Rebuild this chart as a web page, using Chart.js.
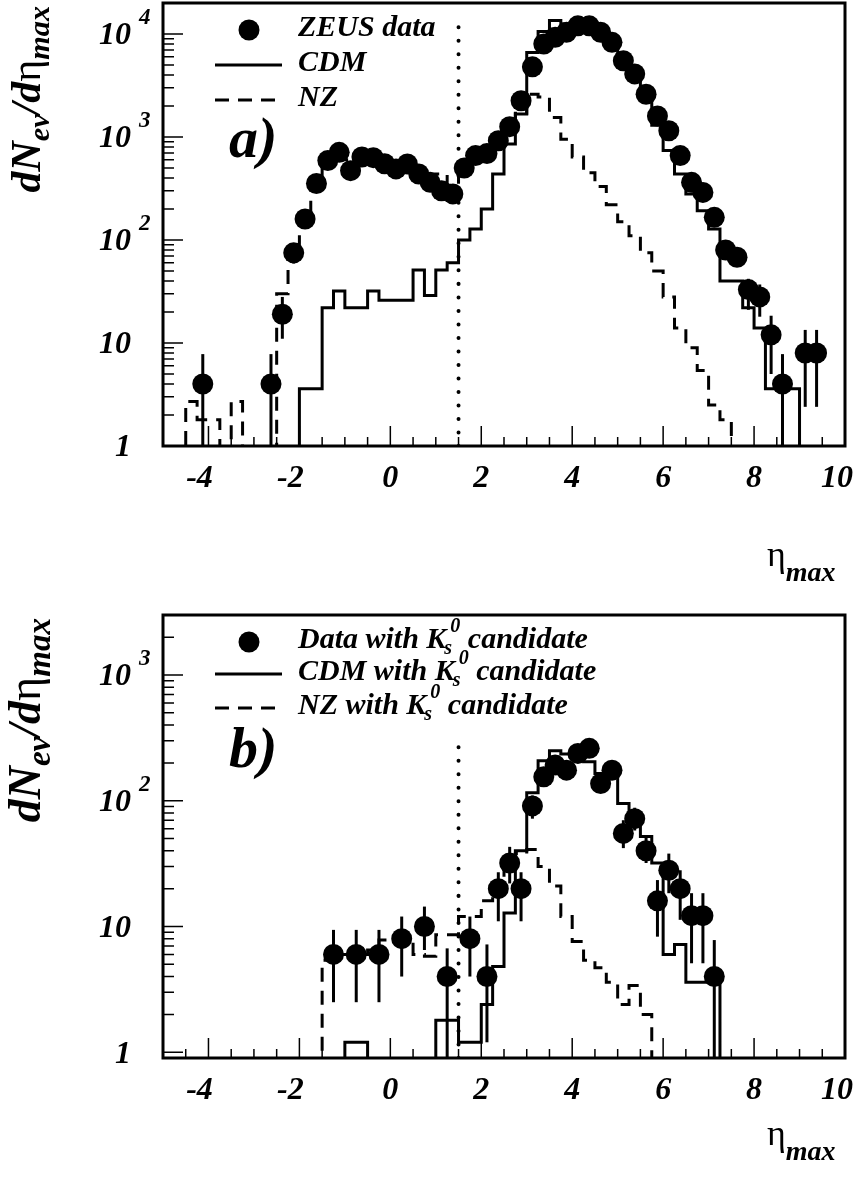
<!DOCTYPE html>
<html>
<head>
<meta charset="utf-8">
<script src="https://cdn.jsdelivr.net/npm/chart.js@4.4.1/dist/chart.umd.min.js"></script>
<style>
  html, body { margin: 0; padding: 0; background: #fff; }
  #wrap { position: relative; width: 864px; height: 1200px; }
  canvas { position: absolute; left: 0; }
</style>
</head>
<body>
<div id="wrap">
  <canvas id="ca" width="864" height="600" style="top:0"></canvas>
  <canvas id="cb" width="864" height="600" style="top:600px"></canvas>
</div>
<script>
// ---- panel a: all events ----
const aDataX = [-4.125, -2.625, -2.375, -2.125, -1.875, -1.625, -1.375, -1.125, -0.875, -0.625, -0.375, -0.125,
  0.125, 0.375, 0.625, 0.875, 1.125, 1.375, 1.625, 1.875, 2.125, 2.375, 2.625, 2.875, 3.125, 3.375, 3.625, 3.875,
  4.125, 4.375, 4.625, 4.875, 5.125, 5.375, 5.625, 5.875, 6.125, 6.375, 6.625, 6.875, 7.125, 7.375, 7.625, 7.875,
  8.125, 8.375, 8.625, 9.125, 9.375];
const aDataY = [4, 4, 19, 75, 160, 354, 590, 710, 471, 640, 630, 550,
  490, 547, 437, 363, 300, 280, 500, 660, 690, 920, 1260, 2250, 4800, 8000, 9300, 10400,
  12000, 12000, 10400, 8300, 5500, 4100, 2600, 1600, 1150, 660, 363, 290, 166, 80, 68, 33,
  28, 12, 4, 8, 8];
const aErrLo = [0.5, 0.5, 11, 59, null, null, null, null, null, null, null, null,
  null, null, null, null, null, null, null, null, null, null, null, null, null, null, null, null,
  null, null, null, null, null, null, null, null, null, null, null, null, null, 70, 58, 21,
  18, 5, 0.5, 2.4, 2.4];
const aErrHi = [7.8, 7.8, 28, 90, null, null, null, null, null, null, null, null,
  null, null, null, null, null, null, null, null, null, null, null, null, null, null, null, null,
  null, null, null, null, null, null, null, null, null, null, null, null, null, 92, 80, 42,
  37, 18.4, 7.8, 13.4, 13.4];
// histograms: first bin edge, then one value per 0.25 bin
const aCdmStart = -2.0;
const aCdmVals = [3.6, 3.6, 22, 32, 22, 22, 32, 26, 26, 26, 51, 29, 51, 60, 100, 128, 200, 437, 855, 1670,
  6600, 10600, 13500, 12500, 13000, 12500, 11000, 8500, 5800, 4000, 2500, 1300, 740, 437, 280, 192, 128,
  40, 40, 22, 14, 3.6, 3.6, 3.6];
const aNzStart = -4.5;
const aNzVals = [2.7, 1.8, 1.8, 0, 2.7, 0, 0, 0, 30, 90, 180, 390, 570, 700, 600, 560, 600, 560, 520, 520,
  470, 420, 437, 340, 550, 650, 700, 900, 1100, 1700, 2600, 2450, 1550, 950, 640, 450, 330, 220, 150, 110,
  75, 50, 28, 14, 9, 5.4, 2.5, 1.8];

// ---- panel b: events with a K0s candidate ----
const bDataX = [-1.25, -0.75, -0.25, 0.25, 0.75, 1.25, 1.75, 2.125, 2.375, 2.625, 2.875, 3.125, 3.375, 3.625,
  3.875, 4.125, 4.375, 4.625, 4.875, 5.125, 5.375, 5.625, 5.875, 6.125, 6.375, 6.625, 6.875, 7.125];
const bDataY = [6, 6, 6, 8, 10, 4, 8, 4, 20, 32, 20, 91, 155, 192, 175, 238, 261, 137, 175, 55, 72, 40, 16,
  28, 20, 12.2, 12.2, 4];
const bErrLo = [2.5, 2.5, 2.5, 4, 6.5, 0.5, 4, 1.2, 11, 22, 11, 72, null, null, null, null, null, null, null,
  42, 58, 32, 8.3, 18.4, 11.3, 5.1, 5.1, 0.5];
const bErrHi = [9.4, 9.4, 9.4, 12, 14.4, 6.7, 12, 7.2, 27, 43, 27, 110, null, null, null, null, null, null, null,
  70, 88, 52, 23.4, 38, 28, 18.4, 18.4, 7.8];
const bCdmStart = -1.0;
const bCdmVals = [1.2, 1.2, 0, 0, 0, 0, 0, 0, 1.8, 1.8, 1.2, 1.2, 2.4, 4.8, 12.8, 40, 116, 208, 250, 235, 235,
  204, 165, 165, 95, 70, 52, 32, 6, 7.2, 3.6, 3.6, 3.6];
const bNzStart = -1.5;
const bNzVals = [5.4, 6, 6, 6, 6.5, 7.8, 8, 8, 6, 5.8, 8.6, 8.6, 12, 12, 16, 22, 28, 38, 41, 30, 21, 12, 7.6,
  5.4, 4.7, 3.6, 2.4, 3.4, 2.0];

// axes
const binW = 0.25;
const xLabels = [-4, -2, 0, 2, 4, 6, 8, 10];
const aYLabels = [[1, '1', ''], [10, '10', ''], [100, '10', '2'], [1000, '10', '3'], [10000, '10', '4']];
const bYLabels = [[1, '1', ''], [10, '10', ''], [100, '10', '2'], [1000, '10', '3']];
const cut = 1.5;

const FLOOR = 0.01;
const SERIF = "'Liberation Serif', 'DejaVu Serif', serif";
const BI = (s) => "italic bold " + s + "px " + SERIF;
const UP = (s) => s + "px " + SERIF;

function stepData(start, vals) {
  const pts = [{ x: start, y: FLOOR }];
  vals.forEach((v, i) => pts.push({ x: start + i * binW, y: v > 0 ? v : FLOOR }));
  const end = start + vals.length * binW;
  const last = vals[vals.length - 1];
  pts.push({ x: end, y: last > 0 ? last : FLOOR });
  pts.push({ x: end, y: FLOOR });
  return pts;
}

function richWidth(ctx, parts) {
  let w = 0;
  parts.forEach((p) => {
    ctx.font = p.f;
    if (!p.stay) w += ctx.measureText(p.t).width + (p.dx || 0);
  });
  return w;
}

function drawRich(ctx, parts, x, y) {
  parts.forEach((p) => {
    ctx.font = p.f;
    ctx.fillText(p.t, x + (p.dx || 0), y + (p.dy || 0));
    if (!p.stay) x += ctx.measureText(p.t).width + (p.dx || 0);
  });
}

function decoPlugin(cfg) {
  return {
    id: "deco",
    afterDatasetsDraw(chart) {
      const ctx = chart.ctx;
      const xs = chart.scales.x, ys = chart.scales.y;
      const area = chart.chartArea;
      // error bars
      ctx.save();
      ctx.beginPath();
      ctx.rect(area.left, area.top, area.right - area.left, area.bottom - area.top);
      ctx.clip();
      ctx.strokeStyle = "#000";
      ctx.lineWidth = 3;
      cfg.x.forEach((xv, i) => {
        if (cfg.lo[i] == null) return;
        const px = xs.getPixelForValue(xv);
        ctx.beginPath();
        ctx.moveTo(px, ys.getPixelForValue(cfg.lo[i]));
        ctx.lineTo(px, ys.getPixelForValue(cfg.hi[i]));
        ctx.stroke();
      });
      ctx.restore();
    },
    afterDraw(chart) {
      const ctx = chart.ctx;
      const xs = chart.scales.x, ys = chart.scales.y;
      const a = chart.chartArea;
      ctx.save();
      ctx.strokeStyle = "#000";
      ctx.fillStyle = "#000";
      // ticks pointing inward
      ctx.lineWidth = 1.5;
      ctx.beginPath();
      for (let t = -4.5; t <= 9.5; t += 0.5) {
        const px = xs.getPixelForValue(t);
        const len = (Math.round(t * 2) % 4 === 0) ? 20 : 9;
        ctx.moveTo(px, a.bottom);
        ctx.lineTo(px, a.bottom - len);
      }
      for (let d = -1; d <= 4; d++) {
        for (let m = 1; m <= 9; m++) {
          const v = m * Math.pow(10, d);
          if (v <= ys.min * 1.001 || v >= ys.max * 0.999) continue;
          const py = ys.getPixelForValue(v);
          ctx.moveTo(a.left, py);
          ctx.lineTo(a.left + (m === 1 ? 20 : 11), py);
        }
      }
      ctx.stroke();
      // frame
      ctx.lineWidth = 3;
      ctx.strokeRect(a.left, a.top, a.right - a.left, a.bottom - a.top);

      // x tick labels
      ctx.textBaseline = "middle";
      ctx.textAlign = "center";
      ctx.font = BI(32);
      xLabels.forEach((v) => {
        let px = xs.getPixelForValue(v);
        if (v < 0) px -= 9;
        if (v === 10) px -= 8;
        ctx.fillText(String(v), px, a.bottom + 33);
      });
      // y tick labels
      cfg.yLabels.forEach(([v, base, exp]) => {
        const py = ys.getPixelForValue(v) + 2;
        ctx.textAlign = "right";
        ctx.font = BI(32);
        ctx.fillText(base, 131, py);
        if (exp) {
          ctx.textAlign = "left";
          ctx.font = BI(23);
          ctx.fillText(exp, 139, py - 18);
        }
      });

      // y title, rotated
      const yParts = [
        { t: "dN", f: BI(cfg.titleSize) },
        { t: "ev", f: BI(cfg.titleSize * 0.72), dy: cfg.titleSize * 0.22 },
        { t: "/d", f: BI(cfg.titleSize) },
        { t: "\u03b7", f: UP(cfg.titleSize) },
        { t: "max", f: BI(cfg.titleSize * 0.72), dy: cfg.titleSize * 0.22 }
      ];
      ctx.textAlign = "left";
      ctx.textBaseline = "alphabetic";
      const tw = richWidth(ctx, yParts);
      ctx.save();
      ctx.translate(40, a.top + 3 + tw);
      ctx.rotate(-Math.PI / 2);
      drawRich(ctx, yParts, 0, 0);
      ctx.restore();

      // x title
      drawRich(ctx, [
        { t: "\u03b7", f: UP(36) },
        { t: "max", f: BI(28), dy: 15 }
      ], 767, cfg.xTitleY);

      // panel letter
      ctx.font = BI(58);
      ctx.fillText(cfg.letter, 229, cfg.letterY);

      // legend
      const lx0 = 215, lx1 = 282, tx = 298;
      ctx.beginPath();
      ctx.arc(249, cfg.legY[0], 10.5, 0, Math.PI * 2);
      ctx.fill();
      ctx.lineWidth = 3;
      ctx.beginPath();
      ctx.moveTo(lx0, cfg.legY[1]);
      ctx.lineTo(lx1, cfg.legY[1]);
      ctx.stroke();
      ctx.setLineDash([14, 9]);
      ctx.beginPath();
      ctx.moveTo(lx0, cfg.legY[2]);
      ctx.lineTo(lx1, cfg.legY[2]);
      ctx.stroke();
      ctx.setLineDash([]);
      ctx.textBaseline = "middle";
      cfg.legText.forEach((parts, i) => drawRich(ctx, parts, tx, cfg.legY[i] + (cfg.legDy || 0)));
      ctx.restore();
    }
  };
}

function makePanel(id, d) {
  const ds = [
    {
      type: "scatter",
      data: d.x.map((x, i) => ({ x, y: d.y[i] })),
      pointRadius: 10.5,
      pointBackgroundColor: "#000",
      pointBorderWidth: 0,
      order: 0
    },
    {
      type: "line",
      data: stepData(d.cdmStart, d.cdm),
      stepped: "before",
      borderColor: "#000",
      borderWidth: 3,
      pointRadius: 0,
      fill: false,
      clip: 0,
      order: 1
    },
    {
      type: "line",
      data: stepData(d.nzStart, d.nz),
      stepped: "before",
      borderColor: "#000",
      borderWidth: 3,
      borderDash: [14, 9],
      pointRadius: 0,
      fill: false,
      clip: 0,
      order: 2
    },
    {
      type: "line",
      data: [{ x: cut, y: d.cutLo }, { x: cut, y: d.cutHi }],
      borderColor: "#000",
      borderWidth: 4,
      borderDash: [0.01, 13.5],
      borderCapStyle: "round",
      pointRadius: 0,
      fill: false,
      order: 3
    }
  ];
  return new Chart(document.getElementById(id), {
    type: "line",
    data: { datasets: ds },
    options: {
      responsive: false,
      animation: false,
      events: [],
      devicePixelRatio: 1,
      layout: { autoPadding: false, padding: d.pad },
      plugins: { legend: { display: false }, tooltip: { enabled: false } },
      scales: {
        x: { type: "linear", min: -5, max: 10, display: false },
        y: { type: "logarithmic", min: d.yMin, max: d.yMax, display: false }
      }
    },
    plugins: [decoPlugin(d)]
  });
}

makePanel("ca", {
  x: aDataX, y: aDataY, lo: aErrLo, hi: aErrHi,
  cdmStart: aCdmStart, cdm: aCdmVals, nzStart: aNzStart, nz: aNzVals,
  cutLo: 1, cutHi: 15000,
  yMin: 1, yMax: 20000,
  pad: { left: 163, right: 19, top: 3, bottom: 154 },
  yLabels: aYLabels,
  titleSize: 42,
  xTitleY: 566,
  letter: "a)", letterY: 157,
  legY: [30, 65, 100],
  legDy: -2,
  legText: [
    [{ t: "ZEUS data", f: BI(30) }],
    [{ t: "CDM", f: BI(30) }],
    [{ t: "NZ", f: BI(30) }]
  ]
});

const kParts = (lead) => [
  { t: lead + " with K", f: BI(30) },
  { t: "s", f: BI(20), dy: 9, dx: -2, stay: true },
  { t: "0", f: BI(20), dy: -13, dx: 4 },
  { t: " candidate", f: BI(30) }
];

makePanel("cb", {
  x: bDataX, y: bDataY, lo: bErrLo, hi: bErrHi,
  cdmStart: bCdmStart, cdm: bCdmVals, nzStart: bNzStart, nz: bNzVals,
  cutLo: 0.9, cutHi: 320,
  yMin: 0.9, yMax: 3000,
  pad: { left: 163, right: 19, top: 15, bottom: 142 },
  yLabels: bYLabels,
  titleSize: 46,
  xTitleY: 545,
  letter: "b)", letterY: 167,
  legY: [42, 74, 108],
  legDy: -2,
  legText: [kParts("Data"), kParts("CDM"), kParts("NZ")]
});
</script>
</body>
</html>
